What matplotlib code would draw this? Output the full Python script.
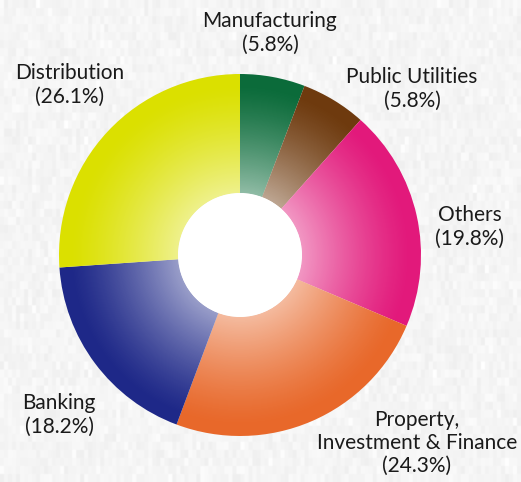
import numpy as np
import matplotlib
matplotlib.use("Agg")
import matplotlib.pyplot as plt
from matplotlib.patches import Circle

# sector shares, clockwise from twelve o'clock
sectors = ["Manufacturing", "Public Utilities", "Others",
           "Property,\nInvestment & Finance", "Banking", "Distribution"]
shares = [5.8, 5.8, 19.8, 24.3, 18.2, 26.1]
colours = ["#0b6b3a", "#6e3a0e", "#e2197b", "#e8682a", "#1e2888", "#dbe000"]

# where each caption sits (figure pixels, origin top-left)
label_xy = [(270, 33), (412, 89), (470, 227), (417, 443), (59, 415), (70, 85)]

W, H = 521, 482
cx, cy = 240, H - 255
r_out, r_in = 181, 62

plt.rcParams["font.family"] = ["Lato", "DejaVu Sans"]

fig = plt.figure(figsize=(W / 100, H / 100), dpi=100)
ax = fig.add_axes([0, 0, 1, 1])

# paper-ish background with faint vertical streaks
rng = np.random.default_rng(3)
tex = rng.normal(0, 1, (H // 8, W // 4))
tex = np.repeat(np.repeat(tex, 8, axis=0), 4, axis=1)
tex = np.clip(0.962 + 0.012 * tex, 0.94, 1.0)
ax.imshow(np.dstack([tex] * 3), extent=(0, W, 0, H), origin="upper",
          zorder=0, interpolation="bicubic")

wedges, _ = ax.pie(shares, colors=colours, startangle=90, counterclock=False,
                   radius=r_out, center=(cx, cy),
                   wedgeprops=dict(width=r_out - r_in, linewidth=0))
for w in wedges:
    w.set_zorder(2)

# white radial fade towards the hole
n = 400
xs = np.linspace(cx - r_out, cx + r_out, n)
ys = np.linspace(cy - r_out, cy + r_out, n)
X, Y = np.meshgrid(xs, ys)
R = np.hypot(X - cx, Y - cy)
fade = np.clip((172 - R) / (172 - r_in), 0, 1) ** 1.3 * 0.55
rgba = np.ones((n, n, 4))
rgba[..., 3] = fade
for w in wedges:
    im = ax.imshow(rgba, extent=(cx - r_out, cx + r_out, cy - r_out, cy + r_out),
                   origin="lower", zorder=3, interpolation="bilinear")
    im.set_clip_path(w)

ax.add_patch(Circle((cx, cy), r_in, facecolor="white", edgecolor="none", zorder=4))

for name, val, (lx, ly) in zip(sectors, shares, label_xy):
    ax.text(lx, H - ly, f"{name}\n({val}%)", ha="center", va="center",
            fontsize=15, color="#1a1a1a", linespacing=1.2, zorder=5)

ax.set_xlim(0, W)
ax.set_ylim(0, H)
ax.set_aspect("equal")
ax.axis("off")

fig.savefig("out.png", dpi=100)
